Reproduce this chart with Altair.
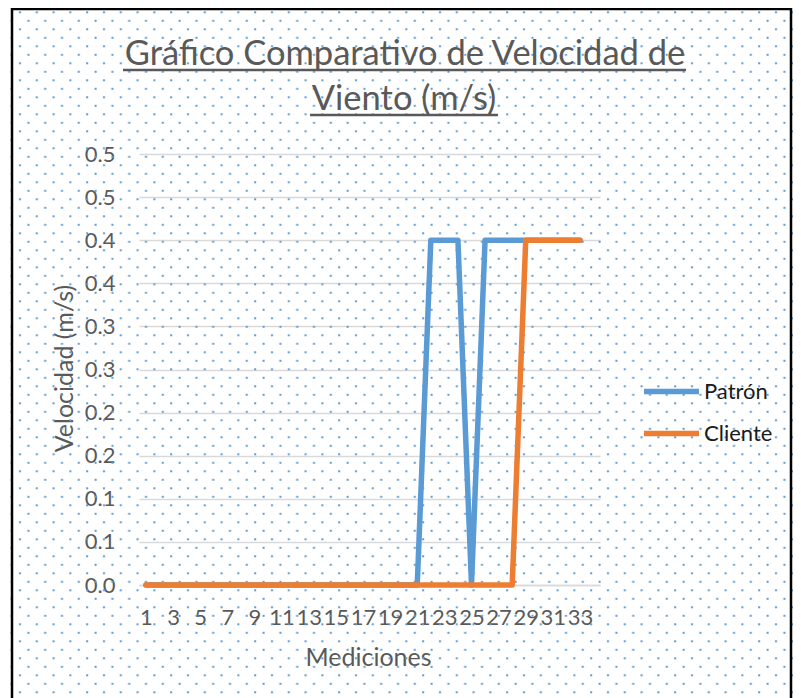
import base64
import altair as alt
import pandas as pd

# ---------------- data ----------------
mediciones = list(range(1, 34))
patron = [0, 0, 0, 0, 0, 0, 0, 0, 0, 0,
          0, 0, 0, 0, 0, 0, 0, 0, 0, 0,
          0, 0.4, 0.4, 0.4, 0, 0.4, 0.4, 0.4, 0.4, 0.4,
          0.4, 0.4, 0.4]
cliente = [0, 0, 0, 0, 0, 0, 0, 0, 0, 0,
           0, 0, 0, 0, 0, 0, 0, 0, 0, 0,
           0, 0, 0, 0, 0, 0, 0, 0, 0.4, 0.4,
           0.4, 0.4, 0.4]
series_names = ["Patrón", "Cliente"]
series_colors = ["#5B9BD5", "#ED7D31"]
x_tick_values = [1, 3, 5, 7, 9, 11, 13, 15, 17, 19, 21, 23, 25, 27, 29, 31, 33]
y_tick_values = [0.0, 0.05, 0.1, 0.15, 0.2, 0.25, 0.3, 0.35, 0.4, 0.45, 0.5]
y_tick_labels = ["0.0", "0.1", "0.1", "0.2", "0.2", "0.3", "0.3", "0.4", "0.4", "0.5", "0.5"]
title_lines = ["Gráfico Comparativo de Velocidad de", "Viento (m/s)"]

df = pd.concat([
    pd.DataFrame({"medicion": mediciones, "velocidad": patron, "serie": series_names[0]}),
    pd.DataFrame({"medicion": mediciones, "velocidad": cliente, "serie": series_names[1]}),
], ignore_index=True)

one = pd.DataFrame({"k": [0]})
GRAY = "#595959"
FONT = "Lato"

label_expr = "[" + ",".join(f"'{l}'" for l in y_tick_labels) + "][round(datum.value*20)]"

# dotted background pattern (decoration)
svg = (
    "<svg xmlns='http://www.w3.org/2000/svg' width='785' height='690'>"
    "<defs><pattern id='p' width='16.8' height='17' patternUnits='userSpaceOnUse'>"
    "<rect x='11' y='3.3' width='2' height='2' fill='#5B9BD5'/>"
    "<rect x='2.6' y='11.8' width='2' height='2' fill='#5B9BD5'/>"
    "</pattern></defs><rect width='785' height='690' fill='url(#p)'/></svg>"
)
data_uri = "data:image/svg+xml;base64," + base64.b64encode(svg.encode()).decode()

bg = alt.Chart(one).mark_image(width=785, height=690, aspect=False, align="left", baseline="top").encode(
    x=alt.value(-131), y=alt.value(-146), url=alt.value(data_uri)
)
border = alt.Chart(one).mark_rect(filled=False, stroke="black", strokeWidth=2.5).encode(
    x=alt.value(-127), x2=alt.value(652), y=alt.value(-145), y2=alt.value(560)
)

x_enc = alt.X(
    "medicion:Q",
    scale=alt.Scale(domain=[0.484, 34.475], nice=False, zero=False),
    axis=alt.Axis(
        values=x_tick_values, format="d", grid=False, ticks=False,
        domainColor="#D9D9D9", domainWidth=1.5,
        labelFontSize=22, labelColor=GRAY, labelPadding=22,
        labelOverlap=False, labelFlush=False, labelBound=False,
        title="Mediciones", titleFontSize=25, titleColor=GRAY, titleFontWeight="normal",
        titleX=229, titleY=72, titleBaseline="middle", titleAlign="center",
    ),
)
y_enc = alt.Y(
    "velocidad:Q",
    scale=alt.Scale(domain=[0, 0.5], nice=False),
    axis=alt.Axis(
        values=y_tick_values, labelExpr=label_expr, grid=True,
        gridColor="#D9D9D9", gridWidth=1.5, ticks=False, domain=False,
        labelFontSize=22, labelColor=GRAY, labelPadding=24, labelOverlap=False,
        title="Velocidad (m/s)", titleFontSize=25, titleColor=GRAY, titleFontWeight="normal",
        titleAngle=270, titleX=-75, titleY=214, titleAlign="center", titleBaseline="middle",
    ),
)
color_enc = alt.Color(
    "serie:N",
    scale=alt.Scale(domain=series_names, range=series_colors),
    legend=alt.Legend(
        orient="none", legendX=502, legendY=207, title=None,
        symbolType="stroke", symbolSize=3025, symbolStrokeWidth=5.5,
        labelFontSize=22, labelColor="#1a1a1a", labelOffset=2,
        rowPadding=-2, padding=0,
    ),
)

base = alt.Chart(df)
line_p = base.transform_filter(alt.datum.serie == series_names[0]).mark_line(
    strokeWidth=5.5, strokeCap="round", strokeJoin="round"
).encode(x=x_enc, y=y_enc, color=color_enc)
line_c = base.transform_filter(alt.datum.serie == series_names[1]).mark_line(
    strokeWidth=5.5, strokeCap="round", strokeJoin="round"
).encode(x=x_enc, y=y_enc, color=color_enc)

t1 = alt.Chart(one).mark_text(fontSize=34.5, font=FONT, color=GRAY, align="center", baseline="alphabetic").encode(
    x=alt.value(266), y=alt.value(-89), text=alt.value(title_lines[0])
)
t2 = alt.Chart(one).mark_text(fontSize=34.5, font=FONT, color=GRAY, align="center", baseline="alphabetic").encode(
    x=alt.value(265), y=alt.value(-44), text=alt.value(title_lines[1])
)
u1 = alt.Chart(one).mark_rule(color=GRAY, strokeWidth=2.5).encode(
    x=alt.value(-16), x2=alt.value(547), y=alt.value(-84)
)
u2 = alt.Chart(one).mark_rule(color=GRAY, strokeWidth=2.5).encode(
    x=alt.value(171), x2=alt.value(359), y=alt.value(-39)
)

chart = alt.layer(bg, border, line_p, line_c, t1, t2, u1, u2).properties(
    width=461, height=431,
    padding={"left": 131, "top": 146, "right": 193, "bottom": 113},
    autosize="none",
).configure(font=FONT).configure_view(stroke=None)

chart.save("out.html", embed_options={"renderer": "svg", "actions": False})
